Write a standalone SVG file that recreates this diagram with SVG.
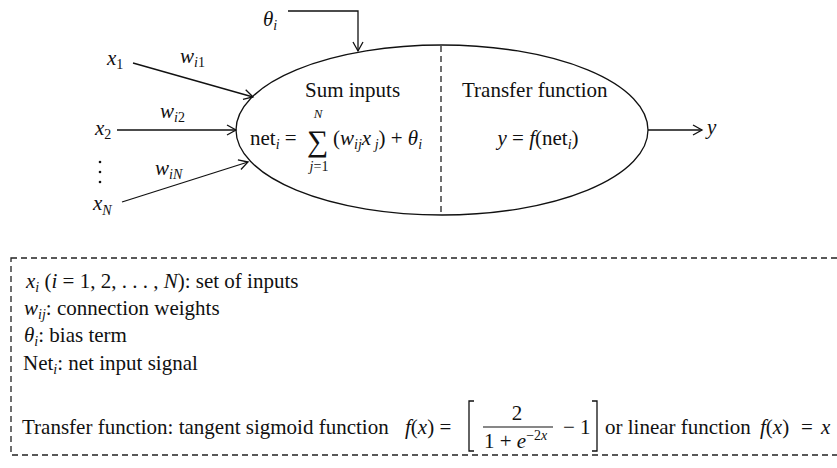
<svg xmlns="http://www.w3.org/2000/svg" width="837" height="468" viewBox="0 0 837 468">
<style>
text{font-family:"Liberation Serif","DejaVu Serif",serif;font-size:21px;fill:#111}
.i{font-style:italic}
.s{font-size:14px}
.n{font-style:normal}
.ln{stroke:#111;stroke-width:1.3;fill:none}
.d{stroke:#222;stroke-width:1.3;fill:none;stroke-dasharray:6 4}
</style>
<defs>
<marker id="ar" markerWidth="12" markerHeight="12" refX="10" refY="6" orient="auto" markerUnits="userSpaceOnUse">
<path d="M1,1 L10,6 L1,11" fill="none" stroke="#111" stroke-width="1.3"/>
</marker>
</defs>
<rect width="837" height="468" fill="#fff"/>
<g id="connectors">
<polyline class="ln" points="288,11 358,11 358,51" marker-end="url(#ar)"/>
<line class="ln" x1="133" y1="63" x2="253" y2="97" marker-end="url(#ar)"/>
<line class="ln" x1="117" y1="130" x2="236" y2="130" marker-end="url(#ar)"/>
<line class="ln" x1="122" y1="202" x2="248" y2="162" marker-end="url(#ar)"/>
<line class="ln" x1="648" y1="130" x2="702" y2="130" marker-end="url(#ar)"/>
</g>
<g id="neuron">
<ellipse class="ln" cx="442" cy="130" rx="206" ry="85"/>
<line class="d" x1="441" y1="46" x2="441" y2="214"/>
<text x="305" y="97">Sum inputs</text>
<text x="250" y="145">net<tspan class="i s" dy="4">i</tspan><tspan dy="-4"> = </tspan></text>
<text x="307" y="151" style="font-size:30px">∑</text>
<text x="318" y="118" class="i" style="font-size:13px" text-anchor="middle">N</text>
<text x="319" y="171" style="font-size:14px" text-anchor="middle"><tspan class="i">j</tspan>=1</text>
<text x="333" y="145">(<tspan class="i">w</tspan><tspan class="i s" dy="4">ij</tspan><tspan class="i" dy="-4">x</tspan><tspan class="i s" dy="4"> j</tspan><tspan dy="-4">) + </tspan><tspan class="i">θ</tspan><tspan class="i s" dy="4">i</tspan></text>
<text x="462" y="97">Transfer function</text>
<text x="538" y="145" text-anchor="middle"><tspan class="i">y</tspan> = <tspan class="i">f</tspan>(net<tspan class="i s" dy="4">i</tspan><tspan dy="-4">)</tspan></text>
</g>
<g id="bias">
<text x="263" y="26" class="i">θ<tspan class="s" dy="4">i</tspan></text>
</g>
<g id="x1">
<text x="107" y="65" class="i">x<tspan class="s n" dy="4">1</tspan></text>
<text x="180" y="63" class="i">w<tspan class="s" dy="4">i</tspan><tspan class="s n">1</tspan></text>
</g>
<g id="x2">
<text x="95" y="135" class="i">x<tspan class="s n" dy="4">2</tspan></text>
<text x="160" y="118" class="i">w<tspan class="s" dy="4">i</tspan><tspan class="s n">2</tspan></text>
</g>
<g id="dots">
<circle cx="100" cy="162" r="1.3" fill="#111"/>
<circle cx="100" cy="172" r="1.3" fill="#111"/>
<circle cx="100" cy="182" r="1.3" fill="#111"/>
</g>
<g id="xN">
<text x="93" y="210" class="i">x<tspan class="s" dy="5">N</tspan></text>
<text x="155" y="175" class="i">w<tspan class="s" dy="4">iN</tspan></text>
</g>
<g id="output">
<text x="707" y="134" class="i">y</text>
</g>
<g id="legend">
<rect class="d" x="11" y="258" width="840" height="197"/>
<text x="26" y="288"><tspan class="i">x</tspan><tspan class="i s" dy="4">i</tspan><tspan dy="-4"> (</tspan><tspan class="i">i</tspan> = 1, 2, . . . , <tspan class="i">N</tspan>): set of inputs</text>
<text x="24" y="315"><tspan class="i">w</tspan><tspan class="i s" dy="4">ij</tspan><tspan dy="-4">: connection weights</tspan></text>
<text x="24" y="342"><tspan class="i">θ</tspan><tspan class="i s" dy="4">i</tspan><tspan dy="-4">: bias term</tspan></text>
<text x="23" y="370">Net<tspan class="i s" dy="4">i</tspan><tspan dy="-4">: net input signal</tspan></text>
<text x="22" y="434">Transfer function: tangent sigmoid function</text>
<text x="405" y="434"><tspan class="i">f</tspan>(<tspan class="i">x</tspan>) =</text>
<path class="ln" d="M474,401 L469,401 L469,451 L474,451 M592,401 L597,401 L597,451 L592,451" style="stroke-width:1.3"/>
<text x="517" y="420" text-anchor="middle">2</text>
<line class="ln" x1="483" y1="427" x2="553" y2="427" style="stroke-width:1.1"/>
<text x="484" y="448">1 + <tspan class="i">e</tspan><tspan class="s" dy="-8">−2<tspan class="i">x</tspan></tspan></text>
<text x="563" y="434">− 1</text>
<text x="605" y="434">or linear function</text>
<text x="760" y="434"><tspan class="i">f</tspan>(<tspan class="i">x</tspan>)</text>
<text x="801" y="434">=</text>
<text x="821" y="434" class="i">x</text>
</g>
</svg>
